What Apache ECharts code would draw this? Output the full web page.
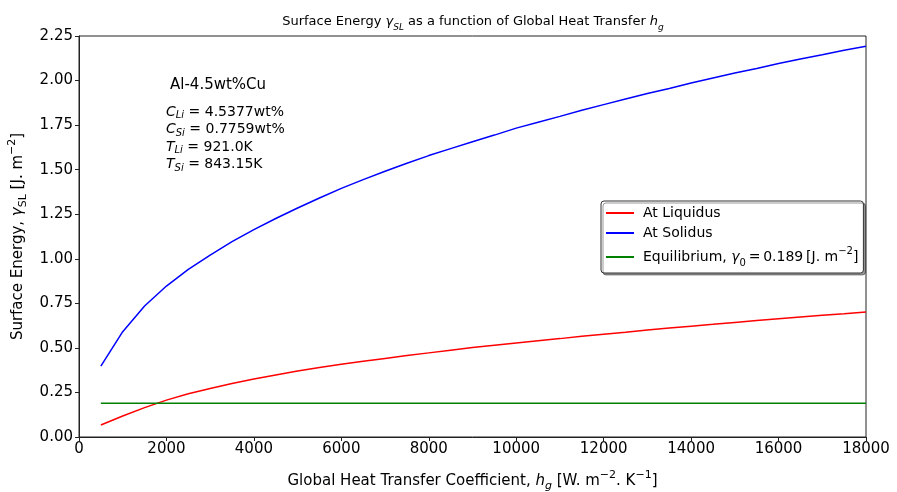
<!DOCTYPE html>
<html>
<head>
<meta charset="utf-8">
<script src="https://cdn.jsdelivr.net/npm/echarts@6/dist/echarts.min.js"></script>
<style>html,body{margin:0;padding:0;background:#fff;}#c{width:897px;height:492px;}</style>
</head>
<body>
<div id="c"></div>
<script>
const hg = [500,1000,1500,2000,2500,3000,3500,4000,4500,5000,5500,6000,6500,7000,7500,8000,8500,9000,9500,10000,10500,11000,11500,12000,12500,13000,13500,14000,14500,15000,15500,16000,16500,17000,17500,18000];
const liquidus = [0.067,0.118,0.165,0.207,0.243,0.272,0.300,0.325,0.348,0.370,0.390,0.408,0.425,0.441,0.457,0.472,0.487,0.502,0.515,0.528,0.540,0.552,0.565,0.577,0.588,0.600,0.611,0.622,0.632,0.643,0.653,0.663,0.673,0.683,0.692,0.702];
const solidus = [0.398,0.591,0.735,0.847,0.940,1.021,1.096,1.164,1.226,1.285,1.341,1.395,1.444,1.491,1.536,1.579,1.618,1.657,1.694,1.733,1.766,1.799,1.833,1.865,1.896,1.927,1.956,1.986,2.014,2.042,2.068,2.096,2.121,2.145,2.170,2.193];
const equilibrium = 0.189;
const xTicks = {min:0, max:18000, interval:2000};
const yTicks = {min:0, max:2.25, interval:0.25};
const seriesNames = ['At Liquidus','At Solidus','Equilibrium'];

const F = 'DejaVu Sans';
const chart = echarts.init(document.getElementById('c'));
const pair = (ys) => hg.map((x,i)=>[x, ys[i]]);
function subStyle(fs, italic){ return {fontFamily:F, fontSize:fs, fontStyle: italic?'italic':'normal', color:'#000', fill:'#000', verticalAlign:'bottom', lineHeight:fs}; }
function supStyle(fs){ return {fontFamily:F, fontSize:fs, color:'#000', fill:'#000', verticalAlign:'top', lineHeight:fs}; }
function mainStyle(fs, italic, lh){ return {fontFamily:F, fontSize:fs, fontStyle: italic?'italic':'normal', color:'#000', fill:'#000', lineHeight:lh}; }

chart.setOption({
  animation:false,
  backgroundColor:'#fff',
  title:{
    text:'{t|Surface Energy }{i|γ}{s|SL}{t| as a function of Global Heat Transfer }{i|h}{s|g}',
    left:468, top:7, textAlign:'center',
    textStyle:{fontFamily:F, fontSize:13, fontWeight:'normal', color:'#000',
      rich:{t:mainStyle(13,false,20), i:mainStyle(13,true,20), s:subStyle(9,true)}}
  },
  grid:{left:79, right:31, top:36, bottom:55, containLabel:false, outerBoundsMode:'none', show:true, borderColor:'#222', borderWidth:1, backgroundColor:'transparent'},
  legend:{
    orient:'vertical', left:601, top:201, width:250,
    backgroundColor:'#fff', borderColor:'#333', borderWidth:1, borderRadius:3,
    padding:[5,5,5,5], itemGap:6, itemWidth:28, itemHeight:2, icon:'rect',
    shadowColor:'rgba(0,0,0,0.4)', shadowOffsetX:2, shadowOffsetY:2, shadowBlur:0,
    data:seriesNames,
    formatter:(n)=> n==='Equilibrium' ? '{t|Equilibrium, }{i|γ}{s|0}{t|\u2009=\u20090.189\u2009[J. m}{p|−2}{t|]}' : n,
    textStyle:{fontFamily:F, fontSize:14, color:'#000', padding:[0,0,0,4],
      rich:{t:mainStyle(14,false,22), i:mainStyle(14,true,22), s:subStyle(10,false), p:supStyle(10)}}
  },
  xAxis:{
    type:'value', min:xTicks.min, max:xTicks.max, interval:xTicks.interval,
    name:'{t|Global Heat Transfer Coefficient, }{i|h}{s|g}{t| [W. m}{p|−2}{t|. K}{p|−1}{t|]}',
    nameLocation:'middle', nameGap:33,
    nameTextStyle:{fontFamily:F, fontSize:15, color:'#000',
      rich:{t:mainStyle(15,false,22), i:mainStyle(15,true,22), s:subStyle(11,true), p:supStyle(11)}},
    axisLine:{lineStyle:{color:'#222',width:1}},
    axisTick:{inside:false,length:4,lineStyle:{color:'#222'}},
    axisLabel:{fontFamily:F, fontSize:15, color:'#000', margin:5, formatter:(v)=>String(v)},
    splitLine:{show:false}
  },
  yAxis:{
    type:'value', min:yTicks.min, max:yTicks.max, interval:yTicks.interval,
    name:'{t|Surface Energy, }{i|γ}{s|SL}{t| [J. m}{p|−2}{t|]}',
    nameLocation:'middle', nameGap:50,
    nameTextStyle:{fontFamily:F, fontSize:15, color:'#000',
      rich:{t:mainStyle(15,false,22), i:mainStyle(15,true,22), s:subStyle(11,false), p:supStyle(11)}},
    axisLine:{show:true, lineStyle:{color:'#222',width:1}},
    axisTick:{show:true, inside:false, length:4, lineStyle:{color:'#222'}},
    axisLabel:{fontFamily:F, fontSize:15, color:'#000', margin:6, formatter:(v)=>v.toFixed(2)},
    splitLine:{show:false}
  },
  graphic:[
    {type:'text', left:170, top:78, style:{text:'Al-4.5wt%Cu', font:'15px "DejaVu Sans"', fill:'#000'}},
    {type:'text', left:166, top:105, style:{
      text:'{i|C}{s|Li}{t| = 4.5377wt%}\n{i|C}{s|Si}{t| = 0.7759wt%}\n{i|T}{s|Li}{t| = 921.0K}\n{i|T}{s|Si}{t| = 843.15K}',
      fill:'#000',
      rich:{i:mainStyle(14,true,17.5), s:subStyle(10,true), t:mainStyle(14,false,17.5)}}}
  ],
  series:[
    {name:seriesNames[0], type:'line', data:pair(liquidus), showSymbol:false, lineStyle:{color:'#ff0000',width:1.5}, itemStyle:{color:'#ff0000'}},
    {name:seriesNames[1], type:'line', data:pair(solidus), showSymbol:false, lineStyle:{color:'#0000ff',width:1.5}, itemStyle:{color:'#0000ff'}},
    {name:seriesNames[2], type:'line', data:hg.map(x=>[x,equilibrium]), showSymbol:false, lineStyle:{color:'#008000',width:1.5}, itemStyle:{color:'#008000'}}
  ]
});
</script>
</body>
</html>
